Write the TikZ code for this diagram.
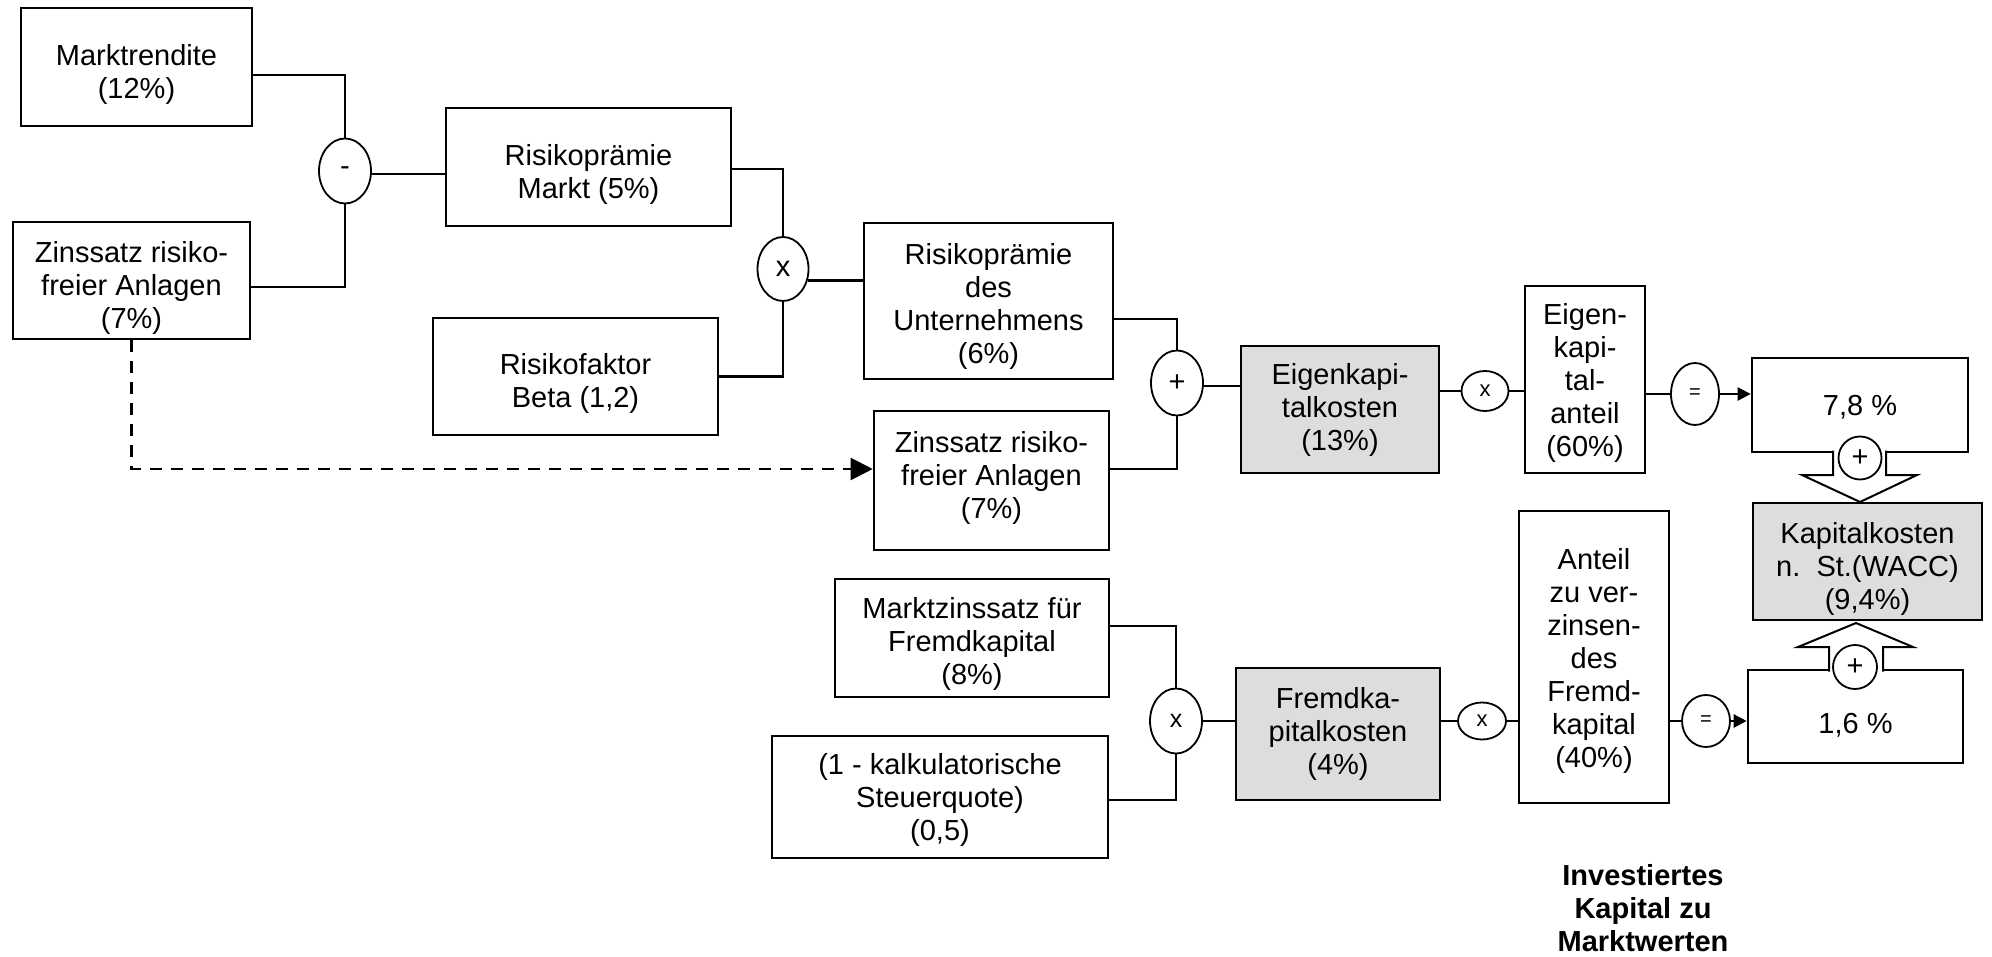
\documentclass[tikz,border=0pt]{standalone}
\usepackage{fontspec}
\setmainfont{Liberation Sans}
\usetikzlibrary{shapes.geometric,arrows.meta}
\definecolor{boxgray}{HTML}{DDDDDD}
\tikzset{
  box/.style={draw, line width=2.6pt, inner sep=0pt},
  graybox/.style={box, fill=boxgray},
  txt/.style={align=center, inner sep=0pt, font=\fontsize{29pt}{33pt}\selectfont},
  boldtxt/.style={align=center, inner sep=0pt, font=\fontsize{29pt}{33pt}\selectfont\bfseries},
  op/.style={draw, ellipse, line width=1.8pt, fill=white, inner sep=0pt, font=\fontsize{29pt}{33pt}\selectfont},
  midop/.style={op, font=\fontsize{25pt}{29pt}\selectfont},
  smallop/.style={op, font=\fontsize{22pt}{26pt}\selectfont},
  eqop/.style={op, font=\fontsize{20pt}{24pt}\selectfont},
  link/.style={line width=2.4pt},
  dashlink/.style={line width=2.2pt, dash pattern=on 12pt off 9pt, -{Triangle[length=22pt,width=22pt]}},
  arrowlink/.style={line width=2.4pt, -{Triangle[length=13pt,width=13pt]}},
  blockarrow/.style={draw, line width=2pt, fill=white, line join=miter},
}
\begin{document}
\begin{tikzpicture}[x=1pt,y=-1pt]
\useasboundingbox (0,0) rectangle (1992,957);

% ---------- boxes ----------
\node[box, minimum width=231pt, minimum height=118pt] (mt) at (136.5,67) {};
\node[txt] (mtt) at ([yshift=-7pt]mt.center) {Marktrendite\\(12\%)};

\node[box, minimum width=237pt, minimum height=117pt] (zl) at (131.5,280.5) {};
\node[txt] (zlt) at ([yshift=-7.5pt]zl.center) {Zinssatz risiko-\\freier Anlagen\\(7\%)};

\node[box, minimum width=285pt, minimum height=118pt] (rpm) at (588.5,167) {};
\node[txt] (rpmt) at ([yshift=-7pt]rpm.center) {Risikoprämie\\Markt (5\%)};

\node[box, minimum width=285pt, minimum height=117pt] (beta) at (575.5,376.5) {};
\node[txt] (betat) at ([yshift=-6.5pt]beta.center) {Risikofaktor\\Beta (1,2)};

\node[box, minimum width=249pt, minimum height=156pt] (rpdu) at (988.5,301) {};
\node[txt] (rpdut) at ([yshift=-5pt]rpdu.center) {Risikoprämie\\des\\Unternehmens\\(6\%)};

\node[box, minimum width=235pt, minimum height=139pt] (z2) at (991.5,480.5) {};
\node[txt] (z2t) at ([yshift=2.5pt]z2.center) {Zinssatz risiko-\\freier Anlagen\\(7\%)};

\node[graybox, minimum width=198pt, minimum height=127pt] (ek) at (1340,409.5) {};
\node[txt] (ekt) at ([yshift=-0.5pt]ek.center) {Eigenkapi-\\talkosten\\(13\%)};

\node[box, minimum width=120pt, minimum height=187pt] (eka) at (1585,379.5) {};
\node[txt] (ekat) at ([yshift=-3pt]eka.center) {Eigen-\\kapi-\\tal-\\anteil\\(60\%)};

\node[box, minimum width=216pt, minimum height=94pt] (b78) at (1860,405) {};
\node[txt] (b78t) at ([yshift=-2pt]b78.center) {7,8 \%};

\node[graybox, minimum width=229pt, minimum height=117pt] (kk) at (1867.5,561.5) {};
\node[txt] (kkt) at ([yshift=-7.5pt]kk.center) {Kapitalkosten\\n.\ \ St.(WACC)\\(9,4\%)};

\node[box, minimum width=215pt, minimum height=93pt] (b16) at (1855.5,716.5) {};
\node[txt] (b16t) at ([yshift=-8.5pt]b16.center) {1,6 \%};

\node[box, minimum width=150pt, minimum height=292pt] (anteil) at (1594,657) {};
\node[txt] (anteilt) at ([yshift=-4pt]anteil.center) {Anteil\\zu ver-\\zinsen-\\des\\Fremd-\\kapital\\(40\%)};

\node[graybox, minimum width=204pt, minimum height=132pt] (fk) at (1338,734) {};
\node[txt] (fkt) at (fk.center) {Fremdka-\\pitalkosten\\(4\%)};

\node[box, minimum width=274pt, minimum height=118pt] (mz) at (972,638) {};
\node[txt] (mzt) at ([yshift=-6pt]mz.center) {Marktzinssatz für\\Fremdkapital\\(8\%)};

\node[box, minimum width=336pt, minimum height=122pt] (sq) at (940,797) {};
\node[txt] (sqt) at ([yshift=-3pt]sq.center) {(1 - kalkulatorische\\Steuerquote)\\(0,5)};

\node[boldtxt] (ikm) at (1643,908) {Investiertes\\Kapital zu\\Marktwerten};

% ---------- operators ----------
\node[op, minimum width=52pt, minimum height=65pt] (minus) at (345,171) {-};
\node[op, minimum width=51pt, minimum height=64pt] (xa) at (783,269) {x};
\node[op, minimum width=52pt, minimum height=65pt] (plus) at (1177,383) {+};
\node[smallop, minimum width=47pt, minimum height=40pt] (xb) at (1485,391) {x};
\node[eqop, minimum width=48pt, minimum height=62pt] (eqa) at (1695,394) {=};
\node[midop, minimum width=52pt, minimum height=65pt] (xc) at (1176,721) {x};
\node[smallop, minimum width=48pt, minimum height=37pt] (xd) at (1482,721) {x};
\node[eqop, minimum width=48pt, minimum height=52pt] (eqb) at (1706,721) {=};

% ---------- connectors ----------
\draw[link] ([yshift=-8pt]mt.east) -| (minus.north);
\draw[link] ([yshift=-6.5pt]zl.east) -| (minus.south);
\draw[link] ([yshift=-3pt]minus.east) -- ([yshift=-3pt]minus.east -| rpm.west);
\draw[link] ([yshift=-2pt]rpm.east) -| (xa.north);
\draw[link] (beta.east) -| (xa.south);
\draw[link] (xa.-25) -- (xa.-25 -| rpdu.west);
\draw[link] ([yshift=-18pt]rpdu.east) -| (plus.north);
\draw[link] ([yshift=11.5pt]z2.east) -| (plus.south);
\draw[link] ([yshift=-3pt]plus.east) -- ([yshift=-3pt]plus.east -| ek.west);
\draw[link] (xb.west -| ek.east) -- (xb.west);
\draw[link] (xb.east) -- (xb.east -| eka.west);
\draw[link] (eqa.west -| eka.east) -- (eqa.west);
\draw[arrowlink] (eqa.east) -- (eqa.east -| b78.west);
\draw[link] ([yshift=12pt]mz.east) -| (xc.north);
\draw[link] ([yshift=-3pt]sq.east) -| (xc.south);
\draw[link] (xc.east) -- (xc.east -| fk.west);
\draw[link] (xd.west -| fk.east) -- (xd.west);
\draw[link] (xd.east) -- (xd.east -| anteil.west);
\draw[link] (eqb.west -| anteil.east) -- (eqb.west);
\draw[arrowlink] (eqb.east) -- (eqb.east -| b16.west);
\draw[dashlink] (zl.south) |- ([yshift=11.5pt]z2.west);

% ---------- block arrows into the WACC box ----------
\path[blockarrow] (1833,450.5) -- (1833,475) -- (1802,475) -- (1860,502)
  -- (1917,475) -- (1886,475) -- (1886,450.5);
\path[blockarrow] (1829,671.5) -- (1829,647) -- (1798,647) -- (1856,623)
  -- (1913,647) -- (1883,647) -- (1883,671.5);
\node[op, minimum width=43pt, minimum height=43pt] (pa) at (1860,458) {+};
\node[op, minimum width=44pt, minimum height=44pt] (pb) at (1855,667) {+};
\end{tikzpicture}
\end{document}
